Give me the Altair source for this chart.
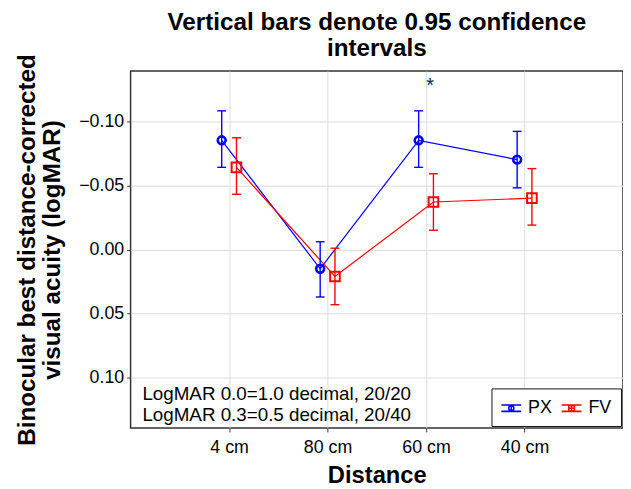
import altair as alt
import pandas as pd

# ---- values ----
distances = ["4 cm", "80 cm", "60 cm", "40 cm"]
series_names = ["PX", "FV"]
series_colors = ["#0000ff", "#ff0000"]

px_mean = [-0.085, 0.015, -0.085, -0.070]
px_upper = [-0.108, -0.006, -0.108, -0.092]
px_lower = [-0.064, 0.037, -0.064, -0.048]

fv_mean = [-0.064, 0.021, -0.037, -0.040]
fv_upper = [-0.087, -0.001, -0.059, -0.063]
fv_lower = [-0.043, 0.043, -0.015, -0.019]

y_ticks = [-0.10, -0.05, 0.00, 0.05, 0.10]
note_lines = ["LogMAR 0.0=1.0 decimal, 20/20", "LogMAR 0.3=0.5 decimal, 20/40"]
star_text = ["*"]
star_at = ["60 cm"]

title_lines = ["Vertical bars denote 0.95 confidence", "intervals"]
y_title_lines = ["Binocular best distance-corrected", "visual acuity (logMAR)"]
x_title = "Distance"

# ---- tables ----
rows = []
for s, means, ups, lows in [("PX", px_mean, px_upper, px_lower),
                            ("FV", fv_mean, fv_upper, fv_lower)]:
    for i, d in enumerate(distances):
        rows.append({"series": s, "distance": d, "idx": i + 1,
                     "mean": means[i], "upper": ups[i], "lower": lows[i]})
df = pd.DataFrame(rows)

notes = pd.DataFrame({"text": note_lines, "line": list(range(len(note_lines)))})
stars = pd.DataFrame({"text": star_text,
                      "idx": [distances.index(d) + 1 for d in star_at],
                      "level": [min(px_upper[distances.index(d)], fv_upper[distances.index(d)]) for d in star_at]})

FONT = "Liberation Sans"
label_expr = "[" + ",".join(["''"] + [f"'{d}'" for d in distances]) + "][datum.value]"

xscale = alt.Scale(domain=[0, 5], nice=False, zero=False)
yscale = alt.Scale(domain=[-0.139, 0.139], nice=False, zero=False, reverse=True)
cscale = alt.Scale(domain=series_names, range=series_colors)

px_path = ("M-1,-0.32L1,-0.32M-1,0.32L1,0.32M0,-0.32L0,0.32"
           "M-0.26,0A0.26,0.26 0 1,0 0.26,0A0.26,0.26 0 1,0 -0.26,0Z")
fv_path = ("M-1,-0.32L1,-0.32M-1,0.32L1,0.32M0,-0.32L0,0.32M-0.28,0L0.28,0"
           "M-0.28,-0.28L0.28,-0.28L0.28,0.28L-0.28,0.28Z")

x_axis = alt.Axis(values=[1, 2, 3, 4], labelExpr=label_expr, title=x_title,
                  grid=True, labelFontSize=18, titleFontSize=24,
                  titleFontWeight="bold", labelPadding=7, titlePadding=7,
                  tickSize=4)
y_axis = alt.Axis(values=y_ticks, format=".2f", title=y_title_lines,
                  grid=True, labelFontSize=18, titleFontSize=24.5,
                  titleFontWeight="bold", labelPadding=3, titlePadding=14,
                  tickSize=4, titleLineHeight=26)

base = alt.Chart(df).transform_calculate(
    xpos="datum.idx + (datum.series == 'PX' ? -0.075 : 0.075)",
    xl="datum.idx + (datum.series == 'PX' ? -0.075 : 0.075) - 0.045",
    xr="datum.idx + (datum.series == 'PX' ? -0.075 : 0.075) + 0.045",
)

color_nolegend = alt.Color("series:N", scale=cscale, legend=None)

legend_kw = dict(title=None, orient="none", legendX=365, legendY=321,
                 direction="horizontal", strokeColor="#111111", fillColor="white",
                 padding=9, labelFontSize=18, symbolSize=400, symbolStrokeWidth=1.6,
                 labelOffset=6, columnPadding=5, symbolOpacity=1, cornerRadius=0)

legend_layer = base.mark_point(opacity=0, filled=False).encode(
    x=alt.X("xpos:Q", scale=xscale, axis=x_axis),
    y=alt.Y("mean:Q", scale=yscale, axis=y_axis),
    color=alt.Color("series:N", scale=cscale, legend=alt.Legend(**legend_kw)),
    shape=alt.Shape("series:N", scale=alt.Scale(domain=series_names, range=[px_path, fv_path]),
                    legend=alt.Legend(**legend_kw)),
)

lines = base.mark_line(strokeWidth=1.2).encode(
    x="xpos:Q", y="mean:Q", color=color_nolegend, detail="series:N")

bars = base.mark_rule(strokeWidth=1.4).encode(
    x="xpos:Q", y="upper:Q", y2="lower:Q", color=color_nolegend)
caps_top = base.mark_rule(strokeWidth=1.4).encode(
    x="xl:Q", x2="xr:Q", y="upper:Q", color=color_nolegend)
caps_bot = base.mark_rule(strokeWidth=1.4).encode(
    x="xl:Q", x2="xr:Q", y="lower:Q", color=color_nolegend)

pts_px = base.transform_filter("datum.series == 'PX'").mark_point(
    shape="circle", filled=False, strokeWidth=2.6, size=64, opacity=1).encode(
    x="xpos:Q", y="mean:Q", color=color_nolegend)
pts_fv = base.transform_filter("datum.series == 'FV'").mark_point(
    shape="square", filled=False, strokeWidth=2.0, size=95, opacity=1).encode(
    x="xpos:Q", y="mean:Q", color=color_nolegend)

note_layer = alt.Chart(notes).transform_calculate(
    nx="0.12", ny="0.1125 + datum.line * 0.0162"
).mark_text(align="left", baseline="middle", fontSize=19, font=FONT, color="black").encode(
    x="nx:Q", y="ny:Q", text="text:N")

star_layer = alt.Chart(stars).transform_calculate(
    sy="datum.level - 0.0145"
).mark_text(align="center", baseline="alphabetic", fontSize=20, font=FONT, color="#222222",
            dx=4).encode(
    x="idx:Q", y="sy:Q", text="text:N")

chart = alt.layer(
    legend_layer, lines, bars, caps_top, caps_bot, pts_px, pts_fv, note_layer, star_layer
).properties(
    width=498, height=361,
    autosize=alt.AutoSizeParams(type="none"),
    padding={"left": 124, "top": 61, "right": 0, "bottom": 60},
    title=alt.TitleParams(text=title_lines, fontSize=24.5, fontWeight="bold",
                          anchor="middle", offset=-8, lineHeight=26, color="black"),
).configure(
    font=FONT,
).configure_view(
    stroke="#333333", strokeWidth=1.5,
).configure_axis(
    gridColor="#dddddd", gridWidth=1, domain=False, tickColor="#333333",
    labelColor="black", titleColor="black", labelFont=FONT, titleFont=FONT,
).configure_legend(
    labelFont=FONT, labelColor="black",
)

chart.save("out.html", embed_options={"renderer": "svg", "actions": False})
